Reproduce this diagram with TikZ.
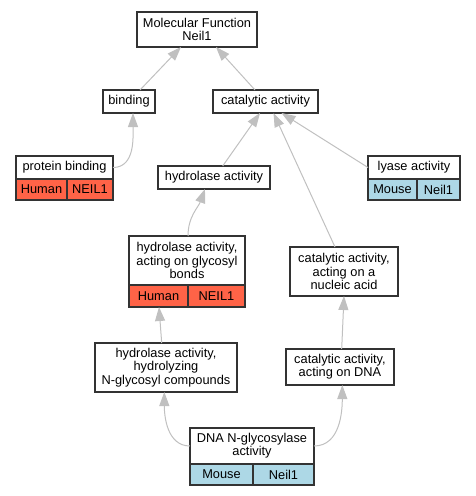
\documentclass[tikz,border=0pt]{standalone}
\usepackage{fontspec}
\setmainfont{Liberation Sans}
\usetikzlibrary{arrows.meta, positioning}
\definecolor{humanred}{HTML}{FF6347}
\definecolor{mouseblue}{HTML}{ADD8E6}
\definecolor{edgegrey}{HTML}{C0C0C0}

\begin{document}
\begin{tikzpicture}[x=1pt, y=-1pt,
        term/.style={draw=black!80, line width=1.2pt, fill=white, align=center, inner sep=0pt, outer sep=0pt,
            font=\fontsize{12.8}{13.3}\selectfont},
        cell/.style={term, minimum height=21pt},
        human/.style={cell, fill=humanred},
        mouse/.style={cell, fill=mouseblue},
        edge/.style={draw=edgegrey, line width=1pt, -{Triangle[length=14pt, width=10pt]}}]
        \useasboundingbox (0,0) rectangle (475,496);
        \node[term, minimum width=120pt, minimum height=35pt] (mf) at (197,29.5) {Molecular Function\\Neil1};
        \node[term, minimum width=52pt, minimum height=23pt] (binding) at (129,101.5) {binding};
        \node[term, minimum width=105pt, minimum height=23pt] (catalytic) at (265.5,101.5) {catalytic activity};
        \node[term, minimum width=97pt, minimum height=23pt] (protbind) at (64.5,167.5) {protein binding};
        \node[human, minimum width=51pt, below right=0pt and 0pt of protbind.south west] (protbindsp) {Human};
        \node[human, minimum width=46pt, right=0pt of protbindsp] (protbindgene) {NEIL1};
        \node[term, minimum width=112pt, minimum height=23pt] (hydrolase) at (214,177.5) {hydrolase activity};
        \node[term, minimum width=92pt, minimum height=23pt] (lyase) at (414,167.5) {lyase activity};
        \node[mouse, minimum width=49pt, below right=0pt and 0pt of lyase.south west] (lyasesp) {Mouse};
        \node[mouse, minimum width=43pt, right=0pt of lyasesp] (lyasegene) {Neil1};
        \node[term, minimum width=116pt, minimum height=49pt] (glycbonds) at (187,260.5) {hydrolase activity,\\acting on glycosyl\\bonds};
        \node[human, minimum width=59pt, minimum height=22pt, below right=0pt and 0pt of glycbonds.south west] (glycbondssp) {Human};
        \node[human, minimum width=57pt, minimum height=22pt, right=0pt of glycbondssp] (glycbondsgene) {NEIL1};
        \node[term, minimum width=108pt, minimum height=49pt] (nucleic) at (344,271.5) {catalytic activity,\\acting on a\\nucleic acid};
        \node[term, minimum width=142pt, minimum height=49pt] (nglyc) at (166,367.5) {hydrolase activity,\\hydrolyzing\\N-glycosyl compounds};
        \node[term, minimum width=108pt, minimum height=36pt] (ondna) at (340,367) {catalytic activity,\\acting on DNA};
        \node[term, minimum width=124pt, minimum height=36pt] (dnaglyc) at (252,446) {DNA N-glycosylase\\activity};
        \node[mouse, minimum width=63pt, below right=0pt and 0pt of dnaglyc.south west] (dnaglycsp) {Mouse};
        \node[mouse, minimum width=61pt, right=0pt of dnaglycsp] (dnaglycgene) {Neil1};

        \draw[edge] ([xshift=11]binding.north) -- ([xshift=-16]mf.south);
        \draw[edge] ([xshift=-10.5]catalytic.north) -- ([xshift=19]mf.south);
        \draw[edge] (protbind.east) to[out=0, in=-90] ([xshift=4]binding.south);
        \draw[edge] ([xshift=8.7]hydrolase.north) -- ([xshift=-5.5]catalytic.south);
        \draw[edge] ([xshift=-9]nucleic.north) -- ([xshift=8]catalytic.south);
        \draw[edge] (lyase.west) -- ([xshift=16]catalytic.south);
        \draw[edge] ([xshift=1]glycbonds.north) to[out=90, in=-110] ([xshift=-9]hydrolase.south);
        \draw[edge] ([xshift=-4.3]nglyc.north) -- ([xshift=0.5]glycbondssp.south);
        \draw[edge] (dnaglyc.west) to[out=180, in=-90] ([xshift=-1.7]nglyc.south);
        \draw[edge] (dnaglyc.east) to[out=0, in=-90] ([xshift=2.3]ondna.south);
        \draw[edge] ([xshift=1.7]ondna.north) -- (nucleic.south);
    \end{tikzpicture}
\end{document}
